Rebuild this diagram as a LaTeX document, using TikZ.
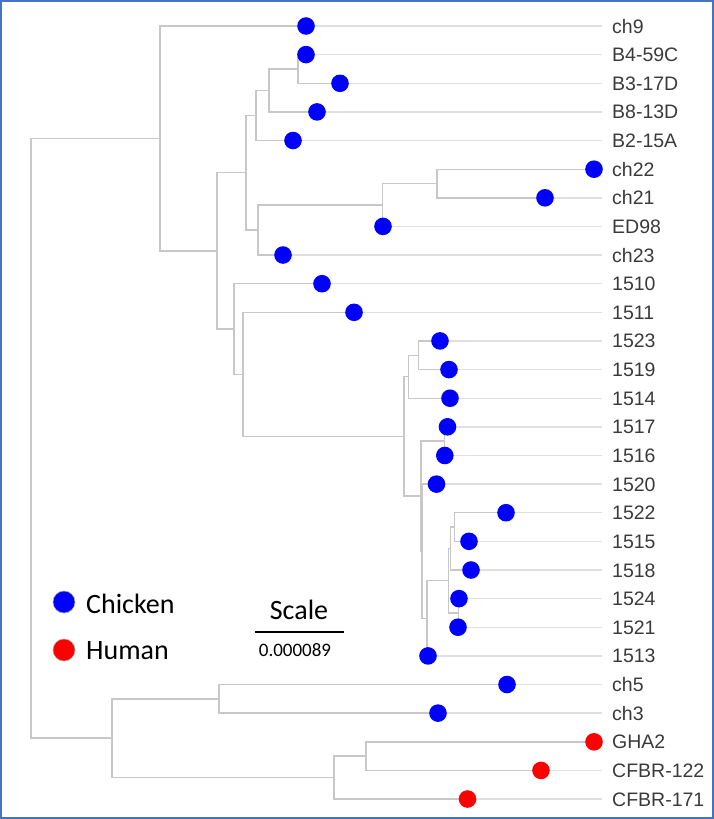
\documentclass[tikz,border=0pt]{standalone}
\usepackage{fontspec}
\setmainfont{Liberation Sans}
\newfontfamily\calib{Carlito}
\usetikzlibrary{calc}
\pgfdeclarelayer{bg}
\pgfsetlayers{bg,main}
\definecolor{chick}{HTML}{0000FF}
\definecolor{hum}{HTML}{FF0000}
\definecolor{framec}{HTML}{4472C4}
\definecolor{brgray}{HTML}{C8C8C8}
\definecolor{extgray}{HTML}{E0E0E0}
\definecolor{labc}{HTML}{3A3A3A}
\newcommand{\treejoin}[4]{\path let \p1=($(#3)!0.5!(#4)$) in (#2pt,\y1) coordinate (#1);}
\begin{document}
\begin{tikzpicture}[x=1pt,y=-1pt,
  dot/.style={circle,inner sep=0pt,minimum size=17.6pt,draw=none},
  lab/.style={anchor=west,inner xsep=10pt,inner ysep=0pt,text height=14pt,text depth=0pt,font=\fontsize{19.5}{20}\selectfont,text=labc},
  br/.style={draw=brgray,line width=1.4pt},
  ext/.style={draw=extgray,line width=1.4pt},
  legt/.style={inner sep=0pt,font=\calib\fontsize{28}{30}\selectfont}]
\useasboundingbox (0,0) rectangle (714,819);
% leaves: dots
\node[dot,fill=chick] (L0) at (306,26) {};
\node[dot,fill=chick] (L1) at (306,54.6) {};
\node[dot,fill=chick] (L2) at (340,83.3) {};
\node[dot,fill=chick] (L3) at (317,111.9) {};
\node[dot,fill=chick] (L4) at (293,140.5) {};
\node[dot,fill=chick] (L5) at (594,169.2) {};
\node[dot,fill=chick] (L6) at (545,197.8) {};
\node[dot,fill=chick] (L7) at (383,226.4) {};
\node[dot,fill=chick] (L8) at (283,255) {};
\node[dot,fill=chick] (L9) at (322,283.7) {};
\node[dot,fill=chick] (L10) at (354,312.3) {};
\node[dot,fill=chick] (L11) at (440,340.9) {};
\node[dot,fill=chick] (L12) at (449,369.6) {};
\node[dot,fill=chick] (L13) at (450,398.2) {};
\node[dot,fill=chick] (L14) at (447.5,426.8) {};
\node[dot,fill=chick] (L15) at (444.8,455.5) {};
\node[dot,fill=chick] (L16) at (436.5,484.1) {};
\node[dot,fill=chick] (L17) at (506,512.7) {};
\node[dot,fill=chick] (L18) at (469,541.3) {};
\node[dot,fill=chick] (L19) at (471,570) {};
\node[dot,fill=chick] (L20) at (459,598.6) {};
\node[dot,fill=chick] (L21) at (458,627.2) {};
\node[dot,fill=chick] (L22) at (428,655.9) {};
\node[dot,fill=chick] (L23) at (507,684.5) {};
\node[dot,fill=chick] (L24) at (438,713.1) {};
\node[dot,fill=hum] (L25) at (594,741.8) {};
\node[dot,fill=hum] (L26) at (541,770.4) {};
\node[dot,fill=hum] (L27) at (467.5,799) {};
% labels
\node[lab] (tx0) at (602,26) {ch9};
\node[lab] (tx1) at (602,54.6) {B4-59C};
\node[lab] (tx2) at (602,83.3) {B3-17D};
\node[lab] (tx3) at (602,111.9) {B8-13D};
\node[lab] (tx4) at (602,140.5) {B2-15A};
\node[lab] (tx5) at (602,169.2) {ch22};
\node[lab] (tx6) at (602,197.8) {ch21};
\node[lab] (tx7) at (602,226.4) {ED98};
\node[lab] (tx8) at (602,255) {ch23};
\node[lab] (tx9) at (602,283.7) {1510};
\node[lab] (tx10) at (602,312.3) {1511};
\node[lab] (tx11) at (602,340.9) {1523};
\node[lab] (tx12) at (602,369.6) {1519};
\node[lab] (tx13) at (602,398.2) {1514};
\node[lab] (tx14) at (602,426.8) {1517};
\node[lab] (tx15) at (602,455.5) {1516};
\node[lab] (tx16) at (602,484.1) {1520};
\node[lab] (tx17) at (602,512.7) {1522};
\node[lab] (tx18) at (602,541.3) {1515};
\node[lab] (tx19) at (602,570) {1518};
\node[lab] (tx20) at (602,598.6) {1524};
\node[lab] (tx21) at (602,627.2) {1521};
\node[lab] (tx22) at (602,655.9) {1513};
\node[lab] (tx23) at (602,684.5) {ch5};
\node[lab] (tx24) at (602,713.1) {ch3};
\node[lab] (tx25) at (602,741.8) {GHA2};
\node[lab] (tx26) at (602,770.4) {CFBR-122};
\node[lab] (tx27) at (602,799) {CFBR-171};
% internal nodes
\treejoin{V111}{298}{L1}{L2}
\treejoin{V11}{269}{V111}{L3}
\treejoin{V1}{256}{V11}{L4}
\treejoin{V211}{437}{L5}{L6}
\treejoin{V21}{382.5}{V211}{L7}
\treejoin{V2}{258}{V21}{L8}
\treejoin{V}{246}{V1}{V2}
\treejoin{Y11}{418.3}{L11}{L12}
\treejoin{Y1}{408.5}{Y11}{L13}
\treejoin{D}{444.3}{L14}{L15}
\treejoin{H}{454.7}{L17}{L18}
\treejoin{F}{450.3}{H}{L19}
\treejoin{G}{458.5}{L20}{L21}
\treejoin{E}{448.3}{F}{G}
\treejoin{C}{427}{E}{L22}
\treejoin{B}{422}{L16}{C}
\treejoin{A}{421}{D}{B}
\treejoin{Y}{404}{Y1}{A}
\treejoin{X}{243}{L10}{Y}
\treejoin{W}{234}{L9}{X}
\treejoin{U}{217}{V}{W}
\treejoin{T}{160}{L0}{U}
\treejoin{Z1}{219}{L23}{L24}
\treejoin{Z21}{366}{L25}{L26}
\treejoin{Z2}{334}{Z21}{L27}
\treejoin{Bm}{112}{Z1}{Z2}
\treejoin{R}{31}{T}{Bm}
\begin{pgfonlayer}{bg}
\foreach \p/\c in {R/T,R/Bm,T/L0,T/U,U/V,U/W,V/V1,V/V2,V1/V11,V1/L4,V11/V111,V11/L3,V111/L1,V111/L2,V2/V21,V2/L8,V21/V211,V21/L7,V211/L5,V211/L6,W/L9,W/X,X/L10,X/Y,Y/Y1,Y/A,Y1/Y11,Y1/L13,Y11/L11,Y11/L12,A/D,A/B,D/L14,D/L15,B/L16,B/C,C/E,C/L22,E/F,E/G,F/H,F/L19,H/L17,H/L18,G/L20,G/L21,Bm/Z1,Bm/Z2,Z1/L23,Z1/L24,Z2/Z21,Z2/L27,Z21/L25,Z21/L26}
  \draw[br] (\p) |- (\c.center);
\foreach \i in {0,...,27}
  \draw[ext] (L\i.center) -- (tx\i.west);
\end{pgfonlayer}
% legend
\node[dot,minimum size=22pt,fill=chick,draw=gray!70,line width=0.6pt] (lgc) at (64,602) {};
\node[legt,anchor=base west] (lgct) at (86,613.3) {Chicken};
\node[dot,minimum size=22pt,fill=hum,draw=gray!70,line width=0.6pt] (lgh) at (64,650) {};
\node[legt,anchor=base west] (lght) at (86,659) {Human};
\node[legt,anchor=base] (sc) at (299,619.3) {Scale};
\coordinate (sb1) at (255,632);
\coordinate (sb2) at (344,632);
\draw[line width=2pt] (sb1) -- (sb2);
\node[inner sep=0pt,font=\calib\fontsize{19}{20}\selectfont,anchor=base] (scv) at (295,656.7) {0.000089};
% frame
\draw[draw=framec,line width=2pt] (1,1) rectangle (713,818);
\end{tikzpicture}
\end{document}
